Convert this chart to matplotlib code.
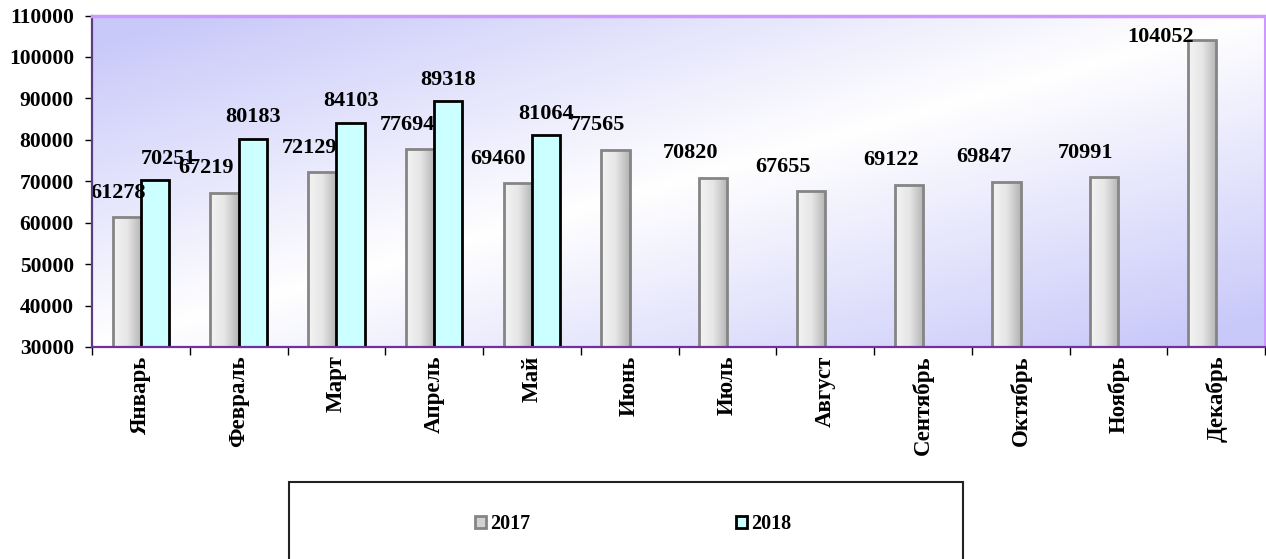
import numpy as np
import matplotlib
matplotlib.use("Agg")
import matplotlib.pyplot as plt
from matplotlib.patches import Rectangle, Patch
from matplotlib.colors import LinearSegmentedColormap

# chart data
months = ["Январь", "Февраль", "Март", "Апрель", "Май", "Июнь",
          "Июль", "Август", "Сентябрь", "Октябрь", "Ноябрь", "Декабрь"]
sales_2017 = [61278, 67219, 72129, 77694, 69460, 77565,
              70820, 67655, 69122, 69847, 70991, 104052]
sales_2018 = [70251, 80183, 84103, 89318, 81064]
series_names = ["2017", "2018"]

# label nudges (points), as placed in the original chart
nudge_2017 = [-6.5, -13, -9.4, -9.4, -14.4, -13, -16.6, -20, -13, -16, -13.7, -30]
nudge_2018 = [9.4, 0, 0, 0, 0]

plt.rcParams['font.family'] = ['Liberation Serif', 'DejaVu Serif']
plt.rcParams['font.weight'] = 'bold'

fig = plt.figure(figsize=(12.66, 5.59), dpi=100)
ax = fig.add_axes([92 / 1266, 1 - 347 / 559, 1173 / 1266, 331.5 / 559])

YMIN, YMAX = 30000, 110000

# diagonal lavender-white-lavender background (row 0 = top of plot area)
u = np.linspace(0, 1, 400)
v = np.linspace(0, 1, 200)
U, V = np.meshgrid(u, v)
t = np.clip(np.abs(U + V - 1) * 1.1, 0, 1)
lav = np.array([0.79, 0.79, 0.98])
bg = (1 - t)[..., None] * np.ones(3) + t[..., None] * lav
ax.imshow(bg, extent=(0, 1, 0, 1), transform=ax.transAxes, aspect='auto',
          zorder=0, origin='upper')

x = np.arange(len(months))
w = 0.29
gray_cmap = LinearSegmentedColormap.from_list("g", ["#f4f4f4", "#e6e6e6", "#b4b4b4"])
grad = np.linspace(0, 1, 64).reshape(1, -1)

bars17 = ax.bar(x - w / 2, sales_2017, w, facecolor='none', edgecolor='#858585',
                linewidth=2, zorder=3)
for rect in bars17:
    x0 = rect.get_x()
    im = ax.imshow(grad, extent=(x0, x0 + rect.get_width(), YMIN, rect.get_height()),
                   cmap=gray_cmap, aspect='auto', zorder=2)
    im.set_clip_path(rect)

x18 = x[:len(sales_2018)]
ax.bar(x18 + w / 2, sales_2018, w, facecolor='#ccffff', edgecolor='black',
       linewidth=2, zorder=3)

for i, val in enumerate(sales_2017):
    dy = 14 if i < 11 else -1
    ax.annotate(str(val), (x[i] - w / 2, val), xytext=(nudge_2017[i], dy),
                textcoords='offset points', ha='center', va='baseline',
                fontsize=16, fontweight='bold', zorder=5)
for i, val in enumerate(sales_2018):
    ax.annotate(str(val), (x18[i] + w / 2, val), xytext=(nudge_2018[i], 12),
                textcoords='offset points', ha='center', va='baseline',
                fontsize=16, fontweight='bold', zorder=5)

ax.set_xlim(-0.5, len(months) - 0.5)
ax.set_ylim(YMIN, YMAX)
ax.set_yticks(np.arange(YMIN, YMAX + 1, 10000))
ax.tick_params(axis='y', direction='out', length=5, width=1, pad=8, labelsize=15.5)

ax.set_xticks(np.arange(-0.5, len(months), 1))
ax.set_xticklabels([])
ax.set_xticks(x, minor=True)
ax.set_xticklabels(months, minor=True, rotation=90, fontsize=16.5, fontweight='bold')
ax.tick_params(axis='x', which='major', direction='out', length=6, width=1)
ax.tick_params(axis='x', which='minor', length=0, pad=6)

ax.spines['left'].set_color('#5b3d80')
ax.spines['left'].set_linewidth(1.6)
ax.spines['bottom'].set_color('#7030a0')
ax.spines['bottom'].set_linewidth(1.6)
ax.spines['top'].set_color('#cc99ff')
ax.spines['top'].set_linewidth(2.5)
ax.spines['right'].set_color('#cc99ff')
ax.spines['right'].set_linewidth(1.5)
for s in ax.spines.values():
    s.set_zorder(6)

# legend box and entries
box = Rectangle((289 / 1266, -0.05), (963 - 289) / 1266, (559 - 482) / 559 + 0.05,
                transform=fig.transFigure, fill=False, edgecolor='#222222',
                linewidth=1.5, clip_on=False)
fig.patches.append(box)

handles = [Patch(facecolor='#d2d2d2', edgecolor='#858585', linewidth=2, label=series_names[0]),
           Patch(facecolor='#ccffff', edgecolor='black', linewidth=2, label=series_names[1])]
fig.legend(handles=handles, loc='center', bbox_to_anchor=(0.5, 0.063), ncol=2,
           frameon=False, handlelength=0.55, handleheight=0.55, handletextpad=0.2,
           columnspacing=10.2, prop={'size': 14.5, 'weight': 'bold'})

fig.savefig("out.png", dpi=100)
